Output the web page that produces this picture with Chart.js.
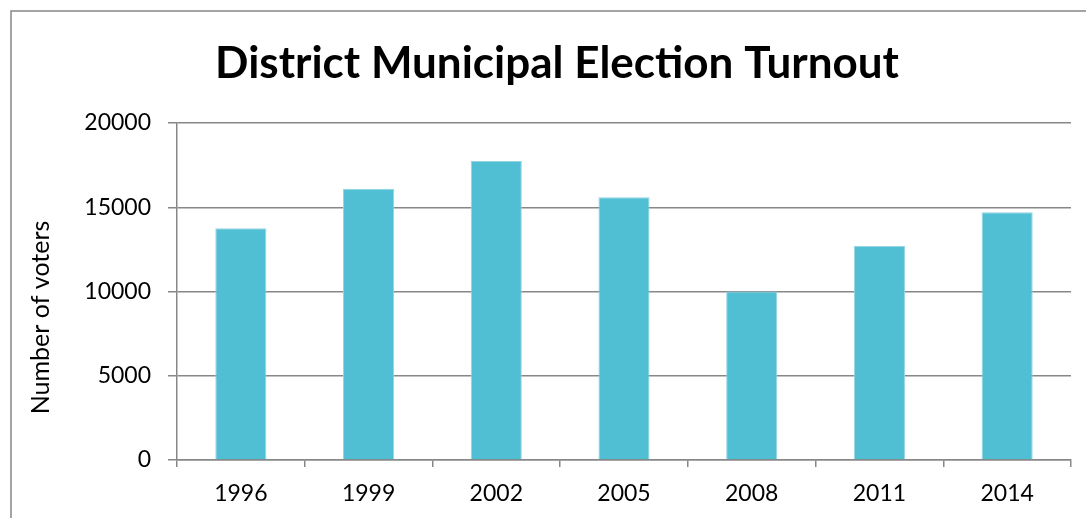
<!DOCTYPE html>
<html>
<head>
<meta charset="utf-8">
<title>District Municipal Election Turnout</title>
<script src="https://cdn.jsdelivr.net/npm/chart.js@4/dist/chart.umd.min.js"></script>
<style>
  html, body { margin: 0; padding: 0; background: #ffffff; }
  #wrap { position: relative; width: 1086px; height: 518px; }
</style>
</head>
<body>
<div id="wrap"><canvas id="chart" width="1086" height="518"></canvas></div>
<script>
// Election years and voter counts
const years = ['1996', '1999', '2002', '2005', '2008', '2011', '2014'];
const voters = [13750, 16100, 17750, 15600, 10000, 12700, 14700];
const yTicks = [0, 5000, 10000, 15000, 20000];
const yTitle = 'Number of voters';

const FONT = 'Lato, "Open Sans", sans-serif';
const GRID = '#878787';

// Frame line along the left and top of the chart panel
const framePlugin = {
  id: 'frame',
  beforeDraw(chart) {
    const ctx = chart.ctx;
    ctx.save();
    ctx.fillStyle = '#ffffff';
    ctx.fillRect(0, 0, chart.width, chart.height);
    ctx.strokeStyle = GRID;
    ctx.lineWidth = 1.5;
    ctx.beginPath();
    ctx.moveTo(11, chart.height);
    ctx.lineTo(11, 11);
    ctx.lineTo(chart.width, 11);
    ctx.stroke();
    ctx.restore();
  }
};

// Vertical axis caption, set a little below the axis centre
const yTitlePlugin = {
  id: 'yTitle',
  afterDraw(chart) {
    const ctx = chart.ctx;
    const area = chart.chartArea;
    const cy = (area.top + area.bottom) / 2 + 26;
    ctx.save();
    ctx.translate(41, cy);
    ctx.rotate(-Math.PI / 2);
    ctx.fillStyle = '#000000';
    ctx.font = '25px ' + FONT;
    ctx.textAlign = 'center';
    ctx.textBaseline = 'middle';
    ctx.fillText(yTitle, 0, 0);
    ctx.restore();
  }
};

new Chart(document.getElementById('chart'), {
  type: 'bar',
  data: {
    labels: years,
    datasets: [{
      label: yTitle,
      data: voters,
      backgroundColor: '#50bed3',
      borderColor: '#93d5e2',
      borderWidth: 1,
      barPercentage: 0.4,
      categoryPercentage: 1.0
    }]
  },
  options: {
    responsive: false,
    animation: false,
    devicePixelRatio: 1,
    layout: { padding: { left: 43, right: 15, top: 0, bottom: 0 } },
    plugins: {
      legend: { display: false },
      tooltip: { enabled: false },
      title: {
        display: true,
        text: 'District Municipal Election Turnout',
        color: '#000000',
        font: { family: FONT, size: 44, weight: 'bold' },
        padding: { top: 37, bottom: 33.2 }
      }
    },
    scales: {
      x: {
        afterFit(scale) { scale.height = 58; },
        grid: {
          offset: true,
          drawOnChartArea: false,
          drawTicks: true,
          tickLength: 7,
          color: GRID,
          lineWidth: 1.5
        },
        border: { display: true, color: GRID, width: 1.5 },
        ticks: {
          color: '#000000',
          font: { family: FONT, size: 23 },
          padding: 13,
          maxRotation: 0
        }
      },
      y: {
        min: 0,
        max: 20000,
        afterFit(scale) { scale.width = 134; },
        afterBuildTicks(scale) { scale.ticks = yTicks.map(v => ({ value: v })); },
        grid: {
          drawTicks: true,
          tickLength: 9,
          color: GRID,
          lineWidth: 1.5
        },
        border: { display: true, color: GRID, width: 1.5 },
        ticks: {
          color: '#000000',
          font: { family: FONT, size: 23 },
          padding: 17,
          callback: v => String(v)
        }
      }
    }
  },
  plugins: [framePlugin, yTitlePlugin]
});
</script>
</body>
</html>
